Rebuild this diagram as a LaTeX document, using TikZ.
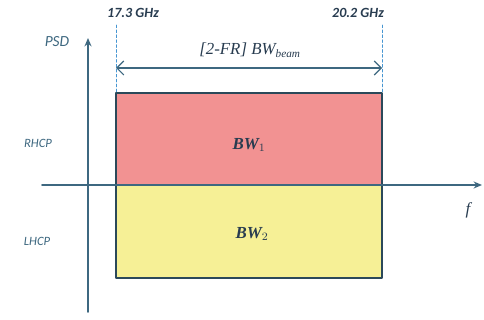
\documentclass[tikz,border=0pt]{standalone}
\usepackage{fontspec}
\setmainfont{Liberation Serif}
\newfontfamily\labfont{Carlito}
\usetikzlibrary{arrows.meta}
\definecolor{axisblue}{RGB}{62,104,128}
\definecolor{guideblue}{RGB}{70,150,210}
\definecolor{rhcpred}{RGB}{242,146,146}
\definecolor{lhcpyellow}{RGB}{246,240,150}
\definecolor{txtdark}{RGB}{40,60,80}
\tikzset{
  axisline/.style={draw=axisblue,line width=1.1pt,-{Stealth[length=6pt,width=5pt]}},
  guideline/.style={draw=guideblue,dashed,dash pattern=on 2pt off 1.5pt,line width=0.5pt},
  bandbox/.style={draw=axisblue!70!black,line width=0.8pt},
  sidelabel/.style={text=axisblue,font=\labfont\itshape\fontsize{9}{10}\selectfont},
  freqlabel/.style={text=txtdark,font=\labfont\bfseries\itshape\fontsize{10}{12}\selectfont},
}
\begin{document}
\begin{tikzpicture}[line join=round,line cap=round]
  \useasboundingbox (0,0) rectangle (12.1,8);
  \path
    (2.2,0.2) coordinate (Y0)
    (2.2,7.05) coordinate (Y1)
    (1.05,3.375) coordinate (X0)
    (12.05,3.375) coordinate (X1)
    (2.9,1.05) coordinate (LB)
    (9.55,3.375) coordinate (MR)
    (2.9,3.375) coordinate (ML)
    (9.55,5.675) coordinate (RT)
    (2.9,5.675) coordinate (LT)
    (2.9,7.375) coordinate (GL)
    (9.55,7.375) coordinate (GR)
    (2.9,6.3) coordinate (AL)
    (9.55,6.3) coordinate (AR)
    ;
  % bands
  \fill[rhcpred] (ML) rectangle (RT);
  \fill[lhcpyellow] (LB) rectangle (MR);
  \draw[bandbox] (LB) rectangle (RT) (ML)--(MR);
  % band edges
  \draw[guideline] (GL)--(LT) (GR)--(RT);
  \draw[draw=axisblue,line width=0.8pt,{Straight Barb[length=5pt]}-{Straight Barb[length=5pt]}] (AL)--(AR);
  % axes
  \draw[axisline] (Y0)--(Y1);
  \draw[axisline] (X0)--(X1);
  % labels
  \node[freqlabel] (fl) at (3.325,7.675) {17.3 GHz};
  \node[freqlabel] (fh) at (8.95,7.675) {20.2 GHz};
  \node[text=axisblue,font=\labfont\itshape\fontsize{11}{13}\selectfont] (psd) at (1.425,6.95) {PSD};
  \node[text=txtdark,font=\itshape\fontsize{12}{14}\selectfont] (bwb) at (6.25,6.75) {[2-FR] BW$_{\mathit{beam}}$};
  \node[sidelabel] (rh) at (0.95,4.425) {RHCP};
  \node[sidelabel] (lh) at (0.925,1.975) {LHCP};
  \node[text=txtdark,font=\itshape\fontsize{12}{14}\selectfont] (fx) at (11.7,2.75) {f};
  \node[text=txtdark,font=\bfseries\itshape\fontsize{12}{14}\selectfont] (bw1) at (6.225,4.375) {BW$_1$};
  \node[text=txtdark,font=\bfseries\itshape\fontsize{12}{14}\selectfont] (bw2) at (6.3,2.15) {BW$_2$};
\end{tikzpicture}
\end{document}
